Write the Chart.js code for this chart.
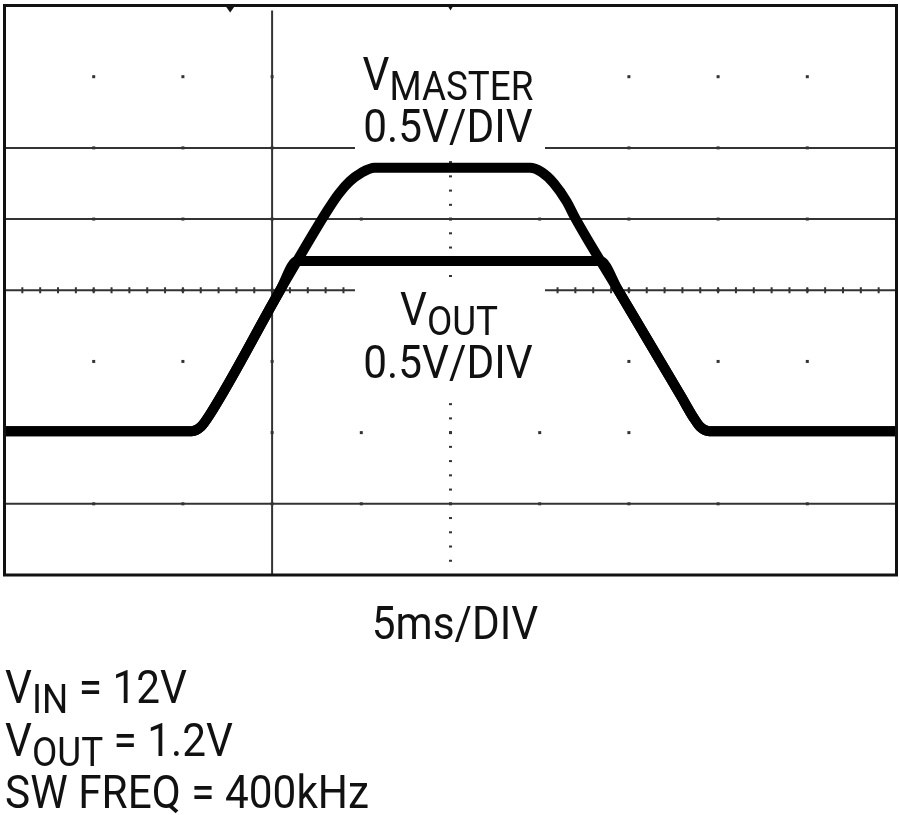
<!DOCTYPE html>
<html>
<head>
<meta charset="utf-8">
<script src="https://cdn.jsdelivr.net/npm/chart.js@4.4.0/dist/chart.umd.min.js"></script>
<style>
  html, body { margin: 0; padding: 0; background: #fff; }
  #wrap { width: 900px; height: 815px; position: relative; }
</style>
</head>
<body>
<div id="wrap"><canvas id="c" width="900" height="815"></canvas></div>
<script>
// Time in divisions (5ms/DIV), voltage in divisions (0.5V/DIV), read from the scope shot
const masterTime = [0, 2.10, 2.20, 2.30, 3.09, 3.62, 3.75, 3.87, 4.00, 4.15, 5.89, 6.02, 6.16, 6.30, 6.40, 6.88, 7.59, 7.72, 7.80, 7.90, 10];
const masterVolt = [2.02, 2.02, 2.08, 2.25, 4.00, 5.12, 5.36, 5.53, 5.65, 5.72, 5.72, 5.66, 5.50, 5.25, 5.01, 4.00, 2.50, 2.22, 2.08, 2.02, 2.02];
const outTime = [0, 2.10, 2.20, 2.30, 3.09, 3.28, 6.68, 6.88, 7.59, 7.72, 7.80, 7.90, 10];
const outVolt = [2.02, 2.02, 2.08, 2.25, 4.00, 4.41, 4.41, 4.00, 2.50, 2.22, 2.08, 2.02, 2.02];

const xDivs = [0,1,2,3,4,5,6,7,8,9,10];
const yDivs = [0,1,2,3,4,5,6,7,8];
const fullLinesY = [5, 1];
const splitLinesY = [6, 4];
const lineX = 3;
const triggerX = 2.53;

const labelMaster = ['V', 'MASTER', '0.5V/DIV'];
const labelOut = ['V', 'OUT', '0.5V/DIV'];
const timeLabel = '5ms/DIV';
const notes = [['V', 'IN', ' = 12V'], ['V', 'OUT', ' = 1.2V'], ['SW FREQ = 400kHz', '', '']];

const FONT = 'Roboto, "Liberation Sans", Arial, sans-serif';
const SX = 0.92;

function tw(ctx, s, size) {
  ctx.font = size + 'px ' + FONT;
  return ctx.measureText(s).width * SX;
}
function txt(ctx, s, x, y, size) {
  ctx.save();
  ctx.translate(x, y);
  ctx.scale(SX, 1);
  ctx.font = size + 'px ' + FONT;
  ctx.fillStyle = '#111';
  ctx.textBaseline = 'alphabetic';
  ctx.textAlign = 'left';
  ctx.fillText(s, 0, 0);
  ctx.restore();
}
function subText(ctx, parts, x, y, big, small, off) {
  let cx = x;
  txt(ctx, parts[0], cx, y, big); cx += tw(ctx, parts[0], big);
  if (parts[1]) { txt(ctx, parts[1], cx, y + off, small); cx += tw(ctx, parts[1], small); }
  if (parts[2]) { txt(ctx, parts[2], cx, y, big); }
}
function subWidth(ctx, parts, big, small) {
  return tw(ctx, parts[0], big) + (parts[1] ? tw(ctx, parts[1], small) : 0) + (parts[2] ? tw(ctx, parts[2], big) : 0);
}

const scopePlugin = {
  id: 'scope',
  beforeDatasetsDraw(chart) {
    const ctx = chart.ctx, xs = chart.scales.x, ys = chart.scales.y, a = chart.chartArea;
    const X = v => xs.getPixelForValue(v), Y = v => ys.getPixelForValue(v);
    const gapL = 355, gapR = 545;
    const inBox = py => (py < 152) || (py > 280 && py < 392);
    ctx.save();
    ctx.strokeStyle = '#333';
    ctx.lineWidth = 2;
    fullLinesY.forEach(v => { ctx.beginPath(); ctx.moveTo(a.left, Y(v)); ctx.lineTo(a.right, Y(v)); ctx.stroke(); });
    splitLinesY.forEach(v => {
      ctx.beginPath(); ctx.moveTo(a.left, Y(v)); ctx.lineTo(gapL, Y(v));
      ctx.moveTo(gapR, Y(v)); ctx.lineTo(a.right, Y(v)); ctx.stroke();
    });
    ctx.beginPath(); ctx.moveTo(X(lineX), a.top + 5); ctx.lineTo(X(lineX), a.bottom); ctx.stroke();
    ctx.fillStyle = '#333';
    for (let i = 1; i < 50; i++) {
      const px = X(i * 0.2);
      if (px > gapL - 2 && px < gapR + 2) continue;
      ctx.fillRect(px - 1, Y(4) - 3, 2, 6);
    }
    for (let i = 1; i < 40; i++) {
      const py = Y(i * 0.2);
      if (inBox(py)) continue;
      ctx.fillRect(X(5) - 1.5, py - 1, 3, 2);
    }
    for (let i = 1; i < 10; i++) {
      for (let j = 1; j < 8; j++) {
        const px = X(xDivs[i]), py = Y(yDivs[j]);
        if (px > gapL - 2 && px < gapR + 2 && inBox(py)) continue;
        ctx.fillRect(px - 1.5, py - 1.5, 3, 3);
      }
    }
    ctx.fillStyle = '#111';
    ctx.beginPath();
    ctx.moveTo(X(triggerX) - 5, a.top); ctx.lineTo(X(triggerX) + 5, a.top); ctx.lineTo(X(triggerX), a.top + 7); ctx.closePath(); ctx.fill();
    ctx.beginPath();
    ctx.moveTo(X(5) - 3, a.top); ctx.lineTo(X(5) + 3, a.top); ctx.lineTo(X(5), a.top + 5); ctx.closePath(); ctx.fill();
    ctx.restore();
  },
  afterDraw(chart) {
    const ctx = chart.ctx, a = chart.chartArea;
    ctx.save();
    ctx.strokeStyle = '#111';
    ctx.lineWidth = 3;
    ctx.strokeRect(a.left, a.top, a.right - a.left, a.bottom - a.top);
    // VMASTER label
    let parts = [labelMaster[0], labelMaster[1], ''];
    let w = subWidth(ctx, parts, 46, 40);
    subText(ctx, parts, 448 - w / 2, 90, 46, 40, 10);
    w = tw(ctx, labelMaster[2], 46);
    txt(ctx, labelMaster[2], 448 - w / 2, 142, 46);
    // VOUT label
    parts = [labelOut[0], labelOut[1], ''];
    w = subWidth(ctx, parts, 46, 40);
    subText(ctx, parts, 449 - w / 2, 325, 46, 40, 10);
    w = tw(ctx, labelOut[2], 46);
    txt(ctx, labelOut[2], 448 - w / 2, 378, 46);
    // time label
    w = tw(ctx, timeLabel, 46);
    txt(ctx, timeLabel, 455 - w / 2, 639, 46);
    // notes
    const bases = [703, 756, 808];
    notes.forEach((p, i) => subText(ctx, p, 5, bases[i], 46, 40, 10));
    ctx.restore();
  }
};

new Chart(document.getElementById('c'), {
  type: 'line',
  data: {
    datasets: [
      {
        label: 'VOUT',
        data: outTime.map((t, i) => ({ x: t, y: outVolt[i] })),
        borderColor: '#000', borderWidth: 10, pointRadius: 0,
        cubicInterpolationMode: 'monotone', borderJoinStyle: 'round', fill: false
      },
      {
        label: 'VMASTER',
        data: masterTime.map((t, i) => ({ x: t, y: masterVolt[i] })),
        borderColor: '#000', borderWidth: 10, pointRadius: 0,
        cubicInterpolationMode: 'monotone', borderJoinStyle: 'round', fill: false
      }
    ]
  },
  options: {
    responsive: false,
    animation: false,
    devicePixelRatio: 1,
    layout: { padding: { left: 4.5, top: 5.5, right: 3.5, bottom: 240 } },
    plugins: { legend: { display: false }, tooltip: { enabled: false } },
    scales: {
      x: { type: 'linear', min: 0, max: 10, display: false },
      y: { type: 'linear', min: 0, max: 8, display: false }
    },
    elements: { line: { tension: 0.4 } }
  },
  plugins: [scopePlugin]
});
</script>
</body>
</html>
